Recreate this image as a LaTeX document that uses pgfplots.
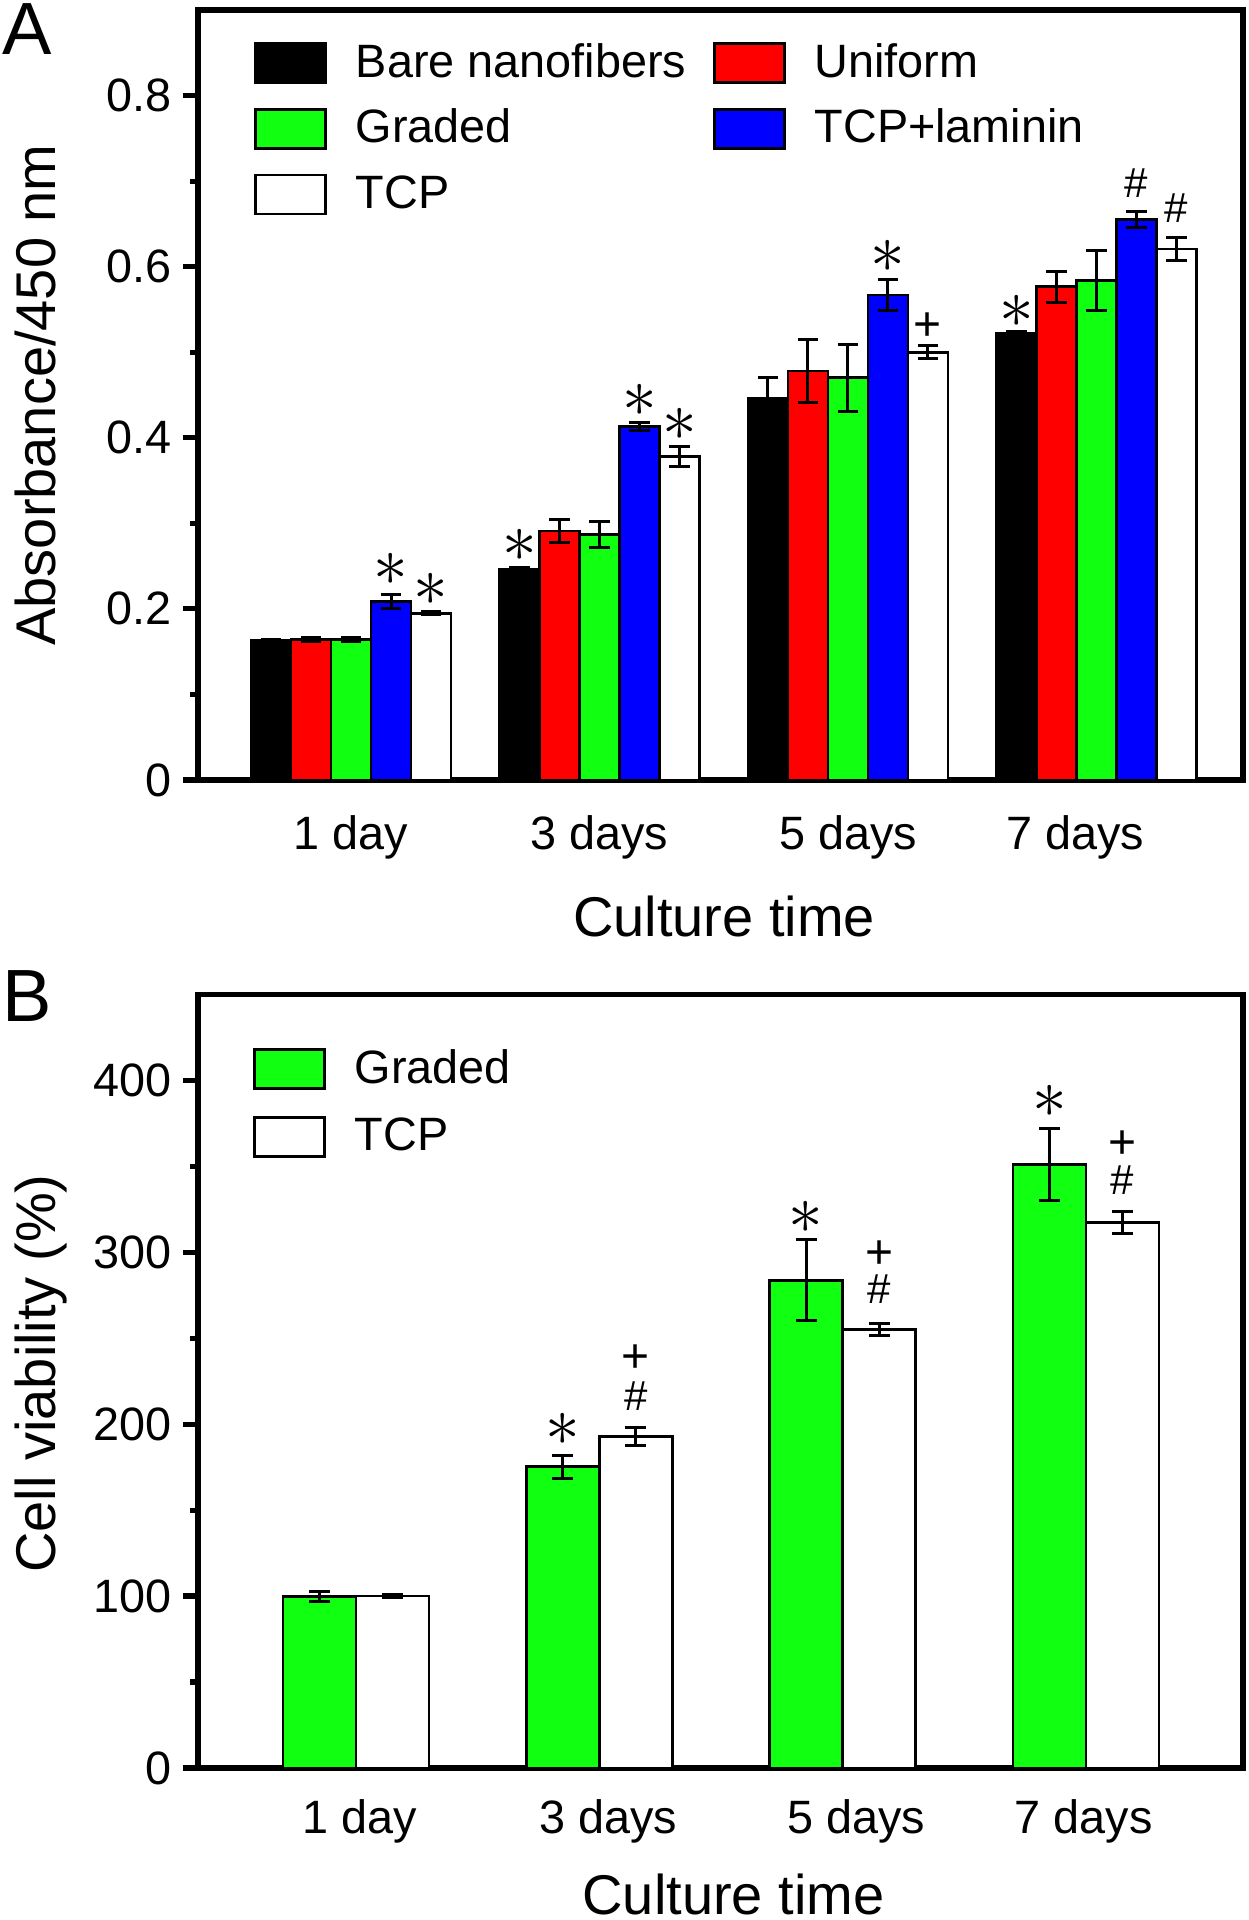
\documentclass[border=0pt]{standalone}
\usepackage{pgfplots}
\pgfplotsset{compat=1.18}
\usepackage{fontspec}
\setmainfont{Liberation Sans}
\definecolor{bargreen}{RGB}{17,255,17}
\definecolor{barred}{RGB}{255,0,0}
\definecolor{barblue}{RGB}{0,0,255}
\pgfplotsset{
  panel/.style={
    scale only axis, width=261.25pt,
    clip=false,
    axis line style={line width=1.4pt},
    tick align=outside,
    ytick pos=left, xtick pos=bottom,
    major tick length=3.75pt, minor tick length=2pt,
    every tick/.append style={line width=1.3pt, black},
    xtick style={draw=none},
    minor y tick num=1,
    ticklabel style={font=\fontsize{11.7}{14}\selectfont},
    yticklabel style={inner sep=0pt, xshift=-2.75pt},
    /pgf/number format/assume math mode=true,
    label style={font=\fontsize{14}{17}\selectfont},
    ybar=0pt,
    legend cell align=left,
    legend image code/.code={\draw[##1, draw=black, line width=0.7pt] (0pt,-4.875pt) rectangle (17.5pt,4.875pt);},
    legend style={draw=none, fill=none, inner sep=0pt, outer sep=0pt, anchor=north west,
      font=\fontsize{11.7}{14}\selectfont,
      /tikz/column sep=7.25pt,
      nodes={inner sep=0pt, text height=8.4pt, text depth=1.35pt}},
  },
  bars/.style={draw=black, line width=0.7pt, fill=#1,
    error bars/.cd, y dir=both, y explicit,
    error bar style={line width=0.75pt, black},
    error mark options={rotate=90, mark size=2.6pt, line width=0.75pt, black}},
}
\tikzset{
  sig/.style={inner sep=0pt, anchor=center, font=\fontsize{17}{19}\selectfont},
  sigp/.style={inner sep=0pt, anchor=center, font=\fontsize{12}{14}\selectfont},
  sigh/.style={inner sep=0pt, anchor=center, font=\fontsize{10.5}{12}\selectfont},
}
\begin{document}
\begin{tikzpicture}
\useasboundingbox (0,0) rectangle (312.25pt,480pt);
% ---------------- Panel A ----------------
\begin{axis}[panel,
  at={(49.5pt,285pt)}, anchor=south west,
  height=192.5pt,
  xmin=0.384, xmax=4.59, ymin=0, ymax=0.9,
  bar width=10pt,
  xtick={1,2,3,3.914},
  xticklabels={1 day,3 days,5 days,7 days},
  xticklabel style={inner sep=0pt, yshift=-5pt},
  ytick={0,0.2,0.4,0.6,0.8},
  yticklabels={0,0.2,0.4,0.6,0.8},
  xlabel={Culture time},
  ylabel={Absorbance/450 nm},
  xlabel style={at={(axis description cs:0.5033,-0.2039)}, anchor=base, inner sep=0pt},
  ylabel style={at={(axis description cs:-0.1359,0.5)}, anchor=base, inner sep=0pt},
  legend columns=2,
  legend style={at={(0.0536,0.9584)}, /tikz/row sep=6pt,
    /tikz/every even column/.append style={column sep=6.65pt}},
]
\addplot[bars=black] coordinates {(1,0.163) +- (0,0.0015) (2,0.246) +- (0,0.002) (3,0.446) +- (0,0.024) (4,0.522) +- (0,0.002)};
\addplot[bars=barred] coordinates {(1,0.164) +- (0,0.002) (2,0.291) +- (0,0.0136) (3,0.478) +- (0,0.037) (4,0.5765) +- (0,0.018)};
\addplot[bars=bargreen] coordinates {(1,0.164) +- (0,0.002) (2,0.287) +- (0,0.015) (3,0.470) +- (0,0.039) (4,0.5836) +- (0,0.035)};
\addplot[bars=barblue] coordinates {(1,0.209) +- (0,0.008) (2,0.413) +- (0,0.005) (3,0.567) +- (0,0.018) (4,0.655) +- (0,0.0095)};
\addplot[bars=white] coordinates {(1,0.195) +- (0,0.0015) (2,0.378) +- (0,0.012) (3,0.500) +- (0,0.0075) (4,0.6206) +- (0,0.013)};
\legend{Bare nanofibers,Uniform,Graded,TCP+laminin,TCP}
\node[sig] at (axis cs:1.161,0.2465) {$\ast$};
\node[sig] at (axis cs:1.322,0.223) {$\ast$};
\node[sig] at (axis cs:1.678,0.2747) {$\ast$};
\node[sig] at (axis cs:2.161,0.4434) {$\ast$};
\node[sig] at (axis cs:2.322,0.4153) {$\ast$};
\node[sig] at (axis cs:3.161,0.6116) {$\ast$};
\node[sigp] at (axis cs:3.322,0.5294) {+};
\node[sig] at (axis cs:3.678,0.548) {$\ast$};
\node[sigh] at (axis cs:4.161,0.6974) {\#};
\node[sigh] at (axis cs:4.322,0.668) {\#};
\end{axis}
% ---------------- Panel B ----------------
\begin{axis}[panel,
  at={(49.5pt,38pt)}, anchor=south west,
  height=193.4pt,
  xmin=0.351, xmax=4.645, ymin=0, ymax=450,
  bar width=18.25pt,
  xtick={1.016,2.036,3.055,3.99},
  xticklabels={1 day,3 days,5 days,7 days},
  xticklabel style={inner sep=0pt, yshift=-4pt},
  ytick={0,100,200,300,400},
  xlabel={Culture time},
  ylabel={Cell viability (\%)},
  xlabel style={at={(axis description cs:0.5124,-0.1900)}, anchor=base, inner sep=0pt},
  ylabel style={at={(axis description cs:-0.1359,0.51)}, anchor=base, inner sep=0pt},
  legend style={at={(0.0526,0.9307)}, /tikz/row sep=6.5pt},
]
\addplot[bars=bargreen] coordinates {(1,99.6) +- (0,3) (2,175.2) +- (0,6.7) (3,283.8) +- (0,23.4) (4,351) +- (0,20.9)};
\addplot[bars=white] coordinates {(1,100) +- (0,1) (2,192.8) +- (0,5) (3,255) +- (0,3.6) (4,317.3) +- (0,6.3)};
\legend{Graded,TCP}
\node[sig] at (axis cs:1.85,197) {$\ast$};
\node[sigp] at (axis cs:2.15,238.4) {+};
\node[sigh] at (axis cs:2.15,216.1) {\#};
\node[sig] at (axis cs:2.85,320.1) {$\ast$};
\node[sigp] at (axis cs:3.15,298.8) {+};
\node[sigh] at (axis cs:3.15,278.7) {\#};
\node[sig] at (axis cs:3.85,387.7) {$\ast$};
\node[sigp] at (axis cs:4.15,362.5) {+};
\node[sigh] at (axis cs:4.15,342) {\#};
\end{axis}
\node[anchor=base west, inner sep=0pt, font=\fontsize{18.5}{20}\selectfont] at (0.5pt,466.25pt) {A};
\node[anchor=base west, inner sep=0pt, font=\fontsize{18.5}{20}\selectfont] at (0.5pt,224.5pt) {B};
\end{tikzpicture}
\end{document}
